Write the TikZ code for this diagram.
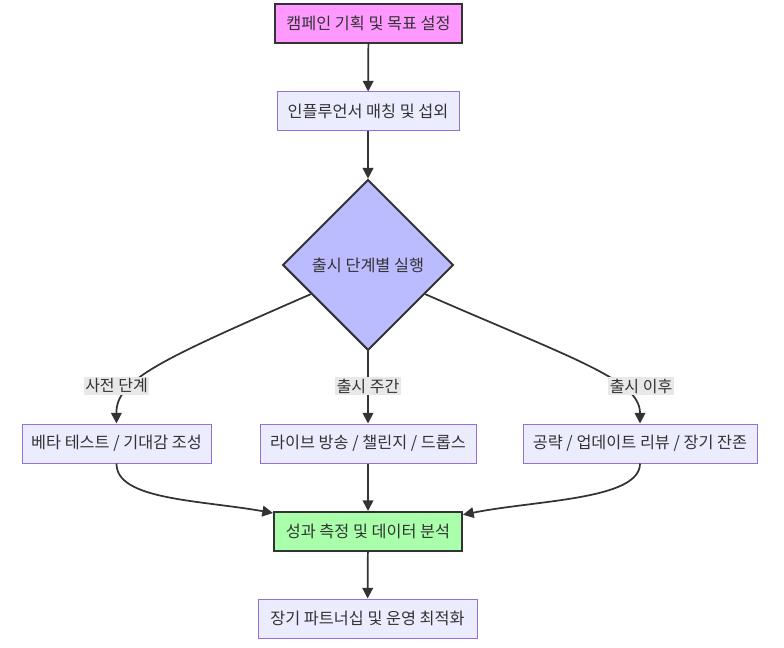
\documentclass[tikz,border=0pt]{standalone}
\usepackage{fontspec}
\setmainfont{Noto Sans CJK KR}
\usetikzlibrary{arrows.meta,shapes.geometric}
\definecolor{ink}{HTML}{333333}
\definecolor{boxfill}{HTML}{ECECFF}
\definecolor{boxline}{HTML}{9370DB}
\definecolor{pinkfill}{HTML}{FF99FF}
\definecolor{bluefill}{HTML}{BBBBFF}
\definecolor{greenfill}{HTML}{AAFFAA}
\definecolor{labelbg}{HTML}{E8E8E8}
\tikzset{
  flowbox/.style={draw=boxline,line width=0.75pt,fill=boxfill,text=ink,
    minimum height=29.25pt,inner sep=0pt,font=\fontsize{12.2pt}{14pt}\selectfont},
  boldbox/.style={flowbox,draw=ink,line width=1.5pt},
  choice/.style={diamond,draw=ink,line width=1.5pt,fill=bluefill,text=ink,
    aspect=1,minimum size=128pt,inner sep=0pt,font=\fontsize{12.2pt}{14pt}\selectfont},
  edgelabel/.style={fill=labelbg,text=ink,inner sep=1pt,font=\fontsize{12pt}{14pt}\selectfont},
  flow/.style={draw=ink,line width=1.3pt,-{Triangle[length=8pt,width=8pt]}}
}
\begin{document}
\begin{tikzpicture}[x=0.75pt,y=-0.75pt]
\useasboundingbox (0,0) rectangle (784,648);
\fill[white] (0,0) rectangle (784,648);

\node[boldbox,fill=pinkfill,minimum width=140.25pt] (plan) at (368.5,23.5) {캠페인 기획 및 목표 설정};
\node[flowbox,minimum width=136.5pt] (match) at (368,111.5) {인플루언서 매칭 및 섭외};
\node[choice] (launch) at (368,265) {출시 단계별 실행};
\node[flowbox,minimum width=141.75pt] (beta) at (116.5,443.5) {베타 테스트 / 기대감 조성};
\node[flowbox,minimum width=162pt] (live) at (368,443.5) {라이브 방송 / 챌린지 / 드롭스};
\node[flowbox,minimum width=175.5pt] (guide) at (640,443.5) {공략 / 업데이트 리뷰 / 장기 잔존};
\node[boldbox,fill=greenfill,minimum width=141pt] (measure) at (368,531.5) {성과 측정 및 데이터 분석};
\node[flowbox,minimum width=164.25pt] (partner) at (367.5,618.5) {장기 파트너십 및 운영 최적화};

\draw[flow] (plan) -- (match);
\draw[flow] (match) -- (launch);
\draw[flow] (launch.-153) .. controls (160,360) and (116,380) .. (beta.north);
\draw[flow] (launch.south) -- (live.north);
\draw[flow] (launch.-27) .. controls (576,360) and (640,380) .. (guide.north);
\node[edgelabel] (pre) at (116.5,386) {사전 단계};
\node[edgelabel] (week) at (368,386) {출시 주간};
\node[edgelabel] (post) at (641,386) {출시 이후};

\draw[flow] (beta.south) .. controls (116,500) and (200,500) .. (measure.169.5);
\draw[flow] (live) -- (measure);
\draw[flow] (guide.south) .. controls (640,500) and (536,500) .. (measure.10.5);
\draw[flow] (measure) -- (partner);
\end{tikzpicture}
\end{document}
